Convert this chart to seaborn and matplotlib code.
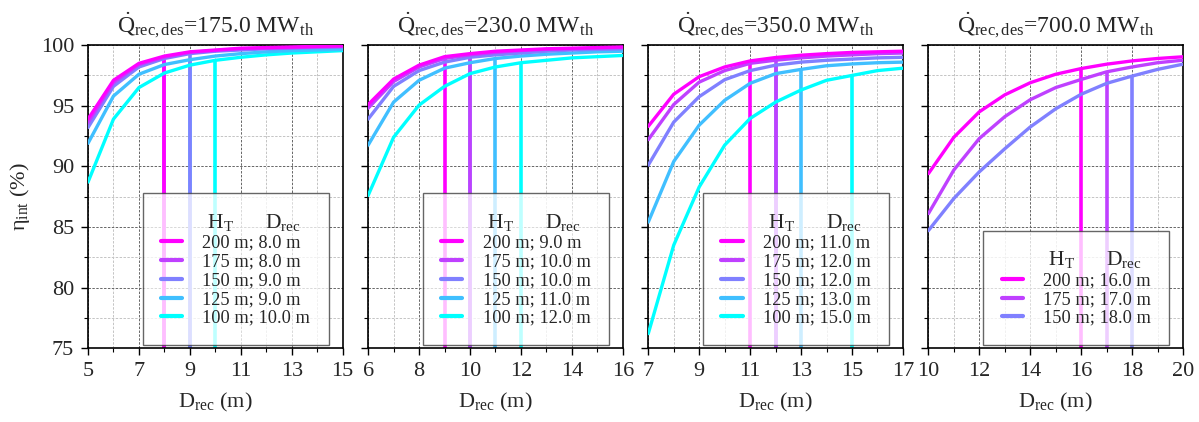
import numpy as np
import pandas as pd
import matplotlib
matplotlib.use("Agg")
import matplotlib.pyplot as plt
from matplotlib.lines import Line2D
from matplotlib.ticker import MultipleLocator
import seaborn as sns

# Receiver thermal power per panel (MW_th)
q_des = [175.0, 230.0, 350.0, 700.0]

# Receiver diameters swept in each panel (m)
d_rec = [
    list(range(5, 16)),
    list(range(6, 17)),
    list(range(7, 18)),
    list(range(10, 21)),
]

# Tower heights (m)
heights = [200, 175, 150, 125, 100]

# Interception efficiency (%) per panel and tower height
eta_175 = {
    200: [93.9, 97.1, 98.5, 99.1, 99.45, 99.6, 99.75, 99.8, 99.85, 99.9, 99.95],
    175: [93.6, 96.9, 98.4, 99.0, 99.4, 99.55, 99.7, 99.75, 99.8, 99.85, 99.9],
    150: [93.2, 96.6, 98.2, 98.9, 99.3, 99.5, 99.6, 99.7, 99.75, 99.8, 99.85],
    125: [91.9, 95.8, 97.6, 98.4, 98.8, 99.1, 99.3, 99.45, 99.55, 99.6, 99.65],
    100: [88.7, 93.9, 96.5, 97.7, 98.35, 98.75, 99.0, 99.2, 99.35, 99.45, 99.55],
}
eta_230 = {
    200: [95.1, 97.2, 98.35, 99.05, 99.3, 99.5, 99.6, 99.7, 99.75, 99.8, 99.85],
    175: [94.8, 97.0, 98.2, 98.9, 99.2, 99.4, 99.55, 99.65, 99.7, 99.75, 99.8],
    150: [93.9, 96.6, 97.9, 98.6, 99.0, 99.2, 99.35, 99.5, 99.6, 99.65, 99.7],
    125: [91.75, 95.3, 97.1, 98.1, 98.55, 98.9, 99.1, 99.25, 99.35, 99.45, 99.5],
    100: [87.6, 92.4, 95.05, 96.6, 97.65, 98.2, 98.55, 98.75, 98.95, 99.05, 99.15],
}
eta_350 = {
    200: [93.3, 95.95, 97.4, 98.2, 98.7, 98.98, 99.17, 99.3, 99.4, 99.45, 99.5],
    175: [92.2, 95.1, 96.95, 97.9, 98.5, 98.76, 98.95, 99.1, 99.2, 99.3, 99.35],
    150: [90.1, 93.65, 95.75, 97.15, 97.9, 98.35, 98.6, 98.75, 98.85, 98.95, 99.0],
    125: [85.4, 90.4, 93.4, 95.45, 96.85, 97.65, 98.0, 98.3, 98.45, 98.55, 98.6],
    100: [76.2, 83.5, 88.3, 91.75, 93.95, 95.3, 96.3, 97.1, 97.5, 97.9, 98.1],
}
eta_700 = {
    200: [89.4, 92.4, 94.5, 95.9, 96.9, 97.6, 98.07, 98.43, 98.7, 98.9, 99.04],
    175: [86.1, 89.7, 92.3, 94.1, 95.5, 96.5, 97.17, 97.8, 98.2, 98.55, 98.76],
    150: [84.7, 87.35, 89.55, 91.45, 93.25, 94.75, 95.95, 96.85, 97.45, 98.0, 98.43],
}
eta = [eta_175, eta_230, eta_350, eta_700]

# Selected receiver diameter for each tower height (m)
d_opt = [
    {200: 8.0, 175: 8.0, 150: 9.0, 125: 9.0, 100: 10.0},
    {200: 9.0, 175: 10.0, 150: 10.0, 125: 11.0, 100: 12.0},
    {200: 11.0, 175: 12.0, 150: 12.0, 125: 13.0, 100: 15.0},
    {200: 16.0, 175: 17.0, 150: 18.0},
]

x_ticks = [
    [5, 7, 9, 11, 13, 15],
    [6, 8, 10, 12, 14, 16],
    [7, 9, 11, 13, 15, 17],
    [10, 12, 14, 16, 18, 20],
]

palette = {200: "#ff00ff", 175: "#bf40ff", 150: "#8080ff", 125: "#40bfff", 100: "#00ffff"}

sns.set_theme(style="white")
plt.rcParams["font.family"] = ["Liberation Serif", "DejaVu Serif"]
plt.rcParams["mathtext.fontset"] = "custom"
plt.rcParams["mathtext.rm"] = "Liberation Serif"
plt.rcParams["mathtext.it"] = "Liberation Serif:italic"
plt.rcParams["mathtext.bf"] = "Liberation Serif:bold"

fig, axes = plt.subplots(1, 4, figsize=(11.99, 4.22), dpi=100, sharey=True)
fig.subplots_adjust(left=0.0734, right=0.9867, top=0.893, bottom=0.175, wspace=0.1)

for i, ax in enumerate(axes):
    rows = []
    for h, vals in eta[i].items():
        for d, v in zip(d_rec[i], vals):
            rows.append({"D": d, "eta": v, "H": h})
    df = pd.DataFrame(rows)
    order = [h for h in heights[::-1] if h in eta[i]]

    # design points: vertical drop lines from the curve down to the axis floor
    for h in order:
        dsel = d_opt[i][h]
        ysel = eta[i][h][d_rec[i].index(int(dsel))]
        ax.vlines(dsel, 75, ysel, color=palette[h], lw=2.6, zorder=2)

    sns.lineplot(data=df, x="D", y="eta", hue="H", hue_order=order,
                 palette=palette, lw=2.4, ax=ax, legend=False, zorder=3)

    ax.set_xlim(d_rec[i][0], d_rec[i][-1])
    ax.set_ylim(75, 100)
    ax.set_xticks(x_ticks[i])
    ax.xaxis.set_minor_locator(MultipleLocator(1))
    ax.yaxis.set_major_locator(MultipleLocator(5))
    ax.yaxis.set_minor_locator(MultipleLocator(2.5))
    ax.grid(which="major", color="#666666", ls=(0, (2.5, 1.5)), lw=0.7)
    ax.grid(which="minor", color="#c4c4c4", ls=(0, (2.5, 1.5)), lw=0.7)
    ax.set_axisbelow(True)
    ax.tick_params(which="major", direction="out", length=5, width=1, labelsize=16,
                   bottom=True, left=True, color="black", pad=5)
    ax.tick_params(which="minor", direction="out", length=3, width=0.8,
                   bottom=True, left=True, color="black")
    for s in ax.spines.values():
        s.set_color("black")
        s.set_linewidth(1.2)

    ax.set_xlabel(r"D$_{\mathrm{rec}}$ (m)", fontsize=16, labelpad=7)
    if i == 0:
        ax.set_ylabel(r"η$_{\mathrm{int}}$ (%)", fontsize=16, labelpad=6)
    else:
        ax.set_ylabel("")
    ax.set_title(r"$\dot{\mathrm{Q}}_{\mathrm{rec,des}}$=" + f"{q_des[i]:.1f} MW" +
                 r"$_{\mathrm{th}}$", fontsize=17, pad=9)

    handles = [Line2D([], [], color=palette[h], lw=3) for h in heights if h in eta[i]]
    labels = [f"{h} m; {d_opt[i][h]:.1f} m" for h in heights if h in eta[i]]
    leg = ax.legend(handles, labels, loc="lower right", bbox_to_anchor=(0.945, 0.01),
                    borderaxespad=0, frameon=True, fancybox=False, framealpha=0.75,
                    edgecolor="#333333", fontsize=13.2, handlelength=1.15,
                    handletextpad=1.1, labelspacing=0.1, borderpad=1.0,
                    title="\u00a0" * 7 + r"H$_{\mathrm{T}}$      D$_{\mathrm{rec}}$",
                    title_fontsize=15.5)
    leg.get_frame().set_linewidth(1.0)
    leg.set_zorder(5)

fig.savefig("out.png", dpi=100)
